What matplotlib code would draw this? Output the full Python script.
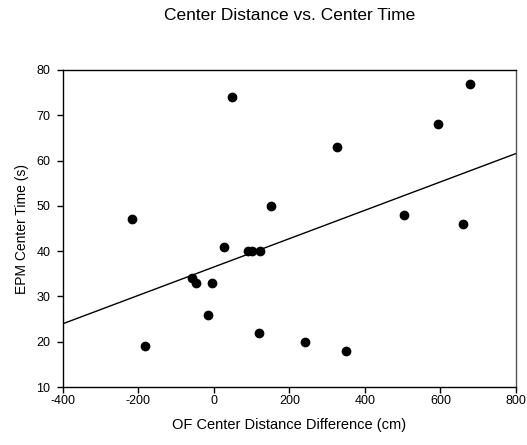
import matplotlib
matplotlib.use("Agg")
import matplotlib.pyplot as plt
import numpy as np

plt.rcParams['font.family'] = ['Liberation Sans', 'DejaVu Sans']
plt.rcParams['axes.unicode_minus'] = False

# data
of_distance = [-218, -183, -59, -48, -17, -6, 26, 47, 89, 100,
               122, 120, 151, 242, 325, 351, 504, 594, 660, 678]
epm_time = [47, 19, 34, 33, 26, 33, 41, 74, 40, 40,
            40, 22, 50, 20, 63, 18, 48, 68, 46, 77]
x_ticks = [-400, -200, 0, 200, 400, 600, 800]
y_ticks = [10, 20, 30, 40, 50, 60, 70, 80]

x = np.array(of_distance, dtype=float)
y = np.array(epm_time, dtype=float)
slope, intercept = np.polyfit(x, y, 1)  # garis regresi

fig = plt.figure(figsize=(5.27, 4.45), dpi=100)
ax = fig.add_axes([0.1195, 0.1303, 0.8595, 0.7124])

xl = np.array([x_ticks[0], x_ticks[-1]], dtype=float)
ax.plot(xl, slope * xl + intercept, color='black', linewidth=1.0)
ax.scatter(x, y, s=36, color='black', zorder=3)

ax.set_xlim(x_ticks[0], x_ticks[-1])
ax.set_ylim(y_ticks[0], y_ticks[-1])
ax.set_xticks(x_ticks)
ax.set_yticks(y_ticks)
ax.tick_params(direction='out', length=4, width=1, labelsize=9, colors='black')
ax.tick_params(axis='x', pad=2)
ax.tick_params(axis='y', pad=5)

for s in ax.spines.values():
    s.set_linewidth(1.0)
    s.set_color('black')
ax.spines['right'].set_color('#555555')

ax.set_xlabel('OF Center Distance Difference (cm)', fontsize=10.5)
ax.xaxis.set_label_coords(0.5, -0.0965)
ax.set_ylabel('EPM Center Time (s)', fontsize=10)
ax.yaxis.set_label_coords(-0.075, 0.5)
fig.text(0.5495, 0.955, 'Center Distance vs. Center Time', ha='center', va='baseline', fontsize=12.5)

fig.savefig('out.png', dpi=100)
